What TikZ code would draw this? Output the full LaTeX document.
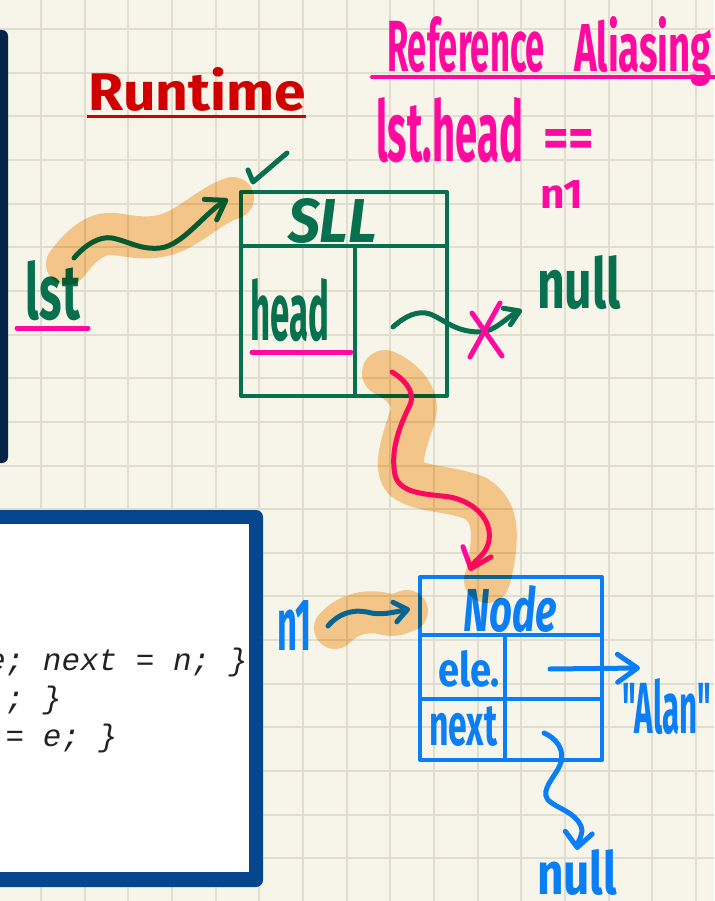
\documentclass[tikz,border=0pt]{standalone}
\usepackage{fontspec}
\usepackage{graphicx}
\usetikzlibrary{arrows.meta}

\newfontfamily\hand{Fira Sans}
\newfontfamily\codefont{Liberation Mono}

\definecolor{paper}{HTML}{F7F5E9}
\definecolor{gridc}{HTML}{E1DECF}
\definecolor{ink}{HTML}{07704F}
\definecolor{pinkink}{HTML}{FF0AA0}
\definecolor{redink}{HTML}{D10000}
\definecolor{blueink}{HTML}{0A7EF5}
\definecolor{navy}{HTML}{062348}
\definecolor{codeblue}{HTML}{05468F}
\definecolor{marker}{HTML}{FCCE95}
\definecolor{codeink}{HTML}{222222}

% handwritten label squeezed into a given width and height
\newcommand\hw[3]{\resizebox{#1pt}{#2pt}{\hand\bfseries #3}}

\tikzset{
  lbl/.style={anchor=base west, inner sep=0pt, outer sep=0pt},
  pen/.style={line width=5pt, line cap=round, line join=round},
  cell/.style={draw, line width=4pt, inner sep=0pt, line join=round},
  hilite/.style={marker, line width=#1, line cap=round, line join=round},
  code/.style={anchor=base west, inner sep=0pt, text=codeink,
    font=\codefont\itshape\fontsize{31}{37}\selectfont},
}

\begin{document}
\begin{tikzpicture}[x=1pt, y=-1pt]
\useasboundingbox (0,0) rectangle (714,901);

% squared paper
\fill[paper] (0,0) rectangle (714,901);
\foreach \i in {0,...,17}
  \draw[gridc, line width=2pt] (-2.6+43.65*\i,0) -- ++(0,901);
\foreach \j in {0,...,21}
  \draw[gridc, line width=2pt] (0,-14.65+43.65*\j) -- ++(714,0);

% edge of the panel on the left
\fill[navy, rounded corners=6pt] (-20,30) rectangle (8,463);

% code panel
\fill[codeblue, rounded corners=7pt] (-20,510) rectangle (263,887);
\fill[white] (-20,524) rectangle (249,872);
\node[code] (c1) at (-13.1,670) {e; next = n; \}};
\node[code] (c2) at (5.5,708) {; \}};
\node[code] (c3) at (5.5,746) {= e; \}};

% title
\node[lbl, text=redink] (runtime) at (88,111) {\hw{218}{43}{Runtime}};
\draw[redink, line width=3pt] (87,117) -- (306,117);

% heading on the right
\node[lbl, text=pinkink] (ref) at (387,72) {\hw{158}{55}{Reference}};
\node[lbl, text=pinkink] (alias) at (574,72) {\hw{138}{55}{Aliasing}};
\draw[pinkink, line width=4pt, line cap=round] (372,77) -- (720,77);
\node[lbl, text=pinkink] (cond) at (376,162) {\hw{147}{64}{lst.head}};
\node[lbl, text=pinkink] (eqeq) at (543,158) {\hw{51}{28}{==}};
\node[lbl, text=pinkink] (condn) at (540,208) {\hw{43}{28}{n1}};

% SLL object
\node[cell, draw=ink, minimum width=206pt, minimum height=204pt] (sll) at (344,294) {};
\draw[ink, line width=4pt] ([yshift=-56pt]sll.north west) -- ([yshift=-56pt]sll.north east);
\draw[ink, line width=4pt] ([xshift=11pt,yshift=-56pt]sll.north) -- ([xshift=11pt]sll.south);
\node[lbl, text=ink] (slltxt) at (288,242) {\hw{89}{44}{\itshape SLL}};
\node[lbl, text=ink] (head) at (250,340) {\hw{79}{62}{head}};
\draw[pinkink, pen] (252,352) -- (351,352);
\draw[ink, pen] (248,170) -- (253,182) -- (287,153);

% variable lst
\node[lbl, text=ink] (lst) at (26,319) {\hw{54}{59}{lst}};
\draw[pinkink, pen] (17,328) -- (88,328);

% null on the right of the head field
\node[lbl, text=ink] (null1) at (537,308) {\hw{84}{53}{null}};

% Node object
\node[cell, draw=blueink, minimum width=182pt, minimum height=183pt] (nd) at (511,668.5) {};
\draw[blueink, line width=4pt] ([yshift=-60pt]nd.north west) -- ([yshift=-60pt]nd.north east);
\draw[blueink, line width=4pt] ([yshift=-124pt]nd.north west) -- ([yshift=-124pt]nd.north east);
\draw[blueink, line width=4pt] ([xshift=-6pt,yshift=-60pt]nd.north) -- ([xshift=-6pt]nd.south);
\node[lbl, text=blueink] (ndtxt) at (463,631) {\hw{94}{46}{\itshape Node}};
\node[lbl, text=blueink] (ele) at (438,686) {\hw{62}{36}{ele.}};
\node[lbl, text=blueink] (next) at (429,745) {\hw{68}{39}{next}};
\node[lbl, text=blueink] (alan) at (622,733) {\hw{89}{55}{"Alan"}};
\node[lbl, text=blueink] (n1) at (277,650) {\hw{35}{50}{n1}};
\node[lbl, text=blueink] (null2) at (537,894) {\hw{80}{45}{null}};

% connector end points
\coordinate (lstTail) at (74,258);
\coordinate (sllIn) at ([xshift=-11pt,yshift=-9pt]sll.north west);
\coordinate (headTail) at (393,327);
\coordinate (nullIn) at (522,310);
\coordinate (pinkTail) at (392,372);
\coordinate (ndTop) at ([xshift=-41pt,yshift=4pt]nd.north);
\coordinate (n1Tail) at (328,626);
\coordinate (ndIn) at ([xshift=-8pt,yshift=-34pt]nd.north west);
\coordinate (eleTail) at (550,669);
\coordinate (alanIn) at (640,668);
\coordinate (nextTail) at (544,733);
\coordinate (null2In) at (577,850);

% references
\draw[ink, pen, -{Straight Barb[length=18pt,width=24pt,round]}]
  (lstTail) .. controls (86,244) and (100,236) .. (112,238)
  .. controls (128,241) and (140,250) .. (160,248)
  .. controls (182,246) and (205,213) .. (sllIn);
\draw[ink, pen, -{Straight Barb[length=14pt,width=18pt,round]}]
  (headTail) .. controls (405,316) and (418,310) .. (430,314)
  .. controls (445,320) and (455,332) .. (480,332)
  .. controls (495,332) and (508,316) .. (nullIn);
\draw[pinkink, pen, -{Straight Barb[length=18pt,width=30pt,round]}]
  (pinkTail) .. controls (402,378) and (416,390) .. (410,405)
  .. controls (400,425) and (390,450) .. (395,475)
  .. controls (400,495) and (430,494) .. (450,497)
  .. controls (475,502) and (492,520) .. (489,540)
  .. controls (487,555) and (474,560) .. (ndTop);
\draw[blueink, pen, -{Straight Barb[length=13pt,width=20pt,round]}]
  (n1Tail) .. controls (338,614) and (352,609) .. (367,612)
  .. controls (380,616) and (395,612) .. (ndIn);
\draw[blueink, pen, -{Straight Barb[length=20pt,width=28pt,round]}]
  (eleTail) -- (alanIn);
\draw[blueink, pen, -{Straight Barb[length=15pt,width=27pt,round]}]
  (nextTail) .. controls (556,738) and (566,750) .. (560,765)
  .. controls (555,777) and (540,790) .. (548,800)
  .. controls (556,808) and (575,812) .. (581,826)
  .. controls (584,835) and (578,840) .. (null2In);

% crossed-out link
\draw[pinkink, pen] (472,313) -- (502,356);
\draw[pinkink, pen] (500,303) -- (470,357);

% highlighter strokes
\begin{scope}[blend mode=multiply]
\draw[hilite=42pt] (67,264) .. controls (85,240) and (100,232) .. (115,234)
  .. controls (130,236) and (145,240) .. (165,235)
  .. controls (190,228) and (210,205) .. (233,198);
\draw[hilite=46pt] (385,373) .. controls (400,380) and (418,395) .. (413,415)
  .. controls (405,440) and (395,465) .. (405,478)
  .. controls (420,490) and (450,488) .. (475,498)
  .. controls (495,510) and (495,530) .. (493,550)
  .. controls (491,565) and (489,575) .. (487,580);
\draw[hilite=42pt] (335,628) .. controls (350,612) and (370,610) .. (385,614)
  .. controls (396,617) and (402,612) .. (407,611);
\end{scope}
\end{tikzpicture}
\end{document}
